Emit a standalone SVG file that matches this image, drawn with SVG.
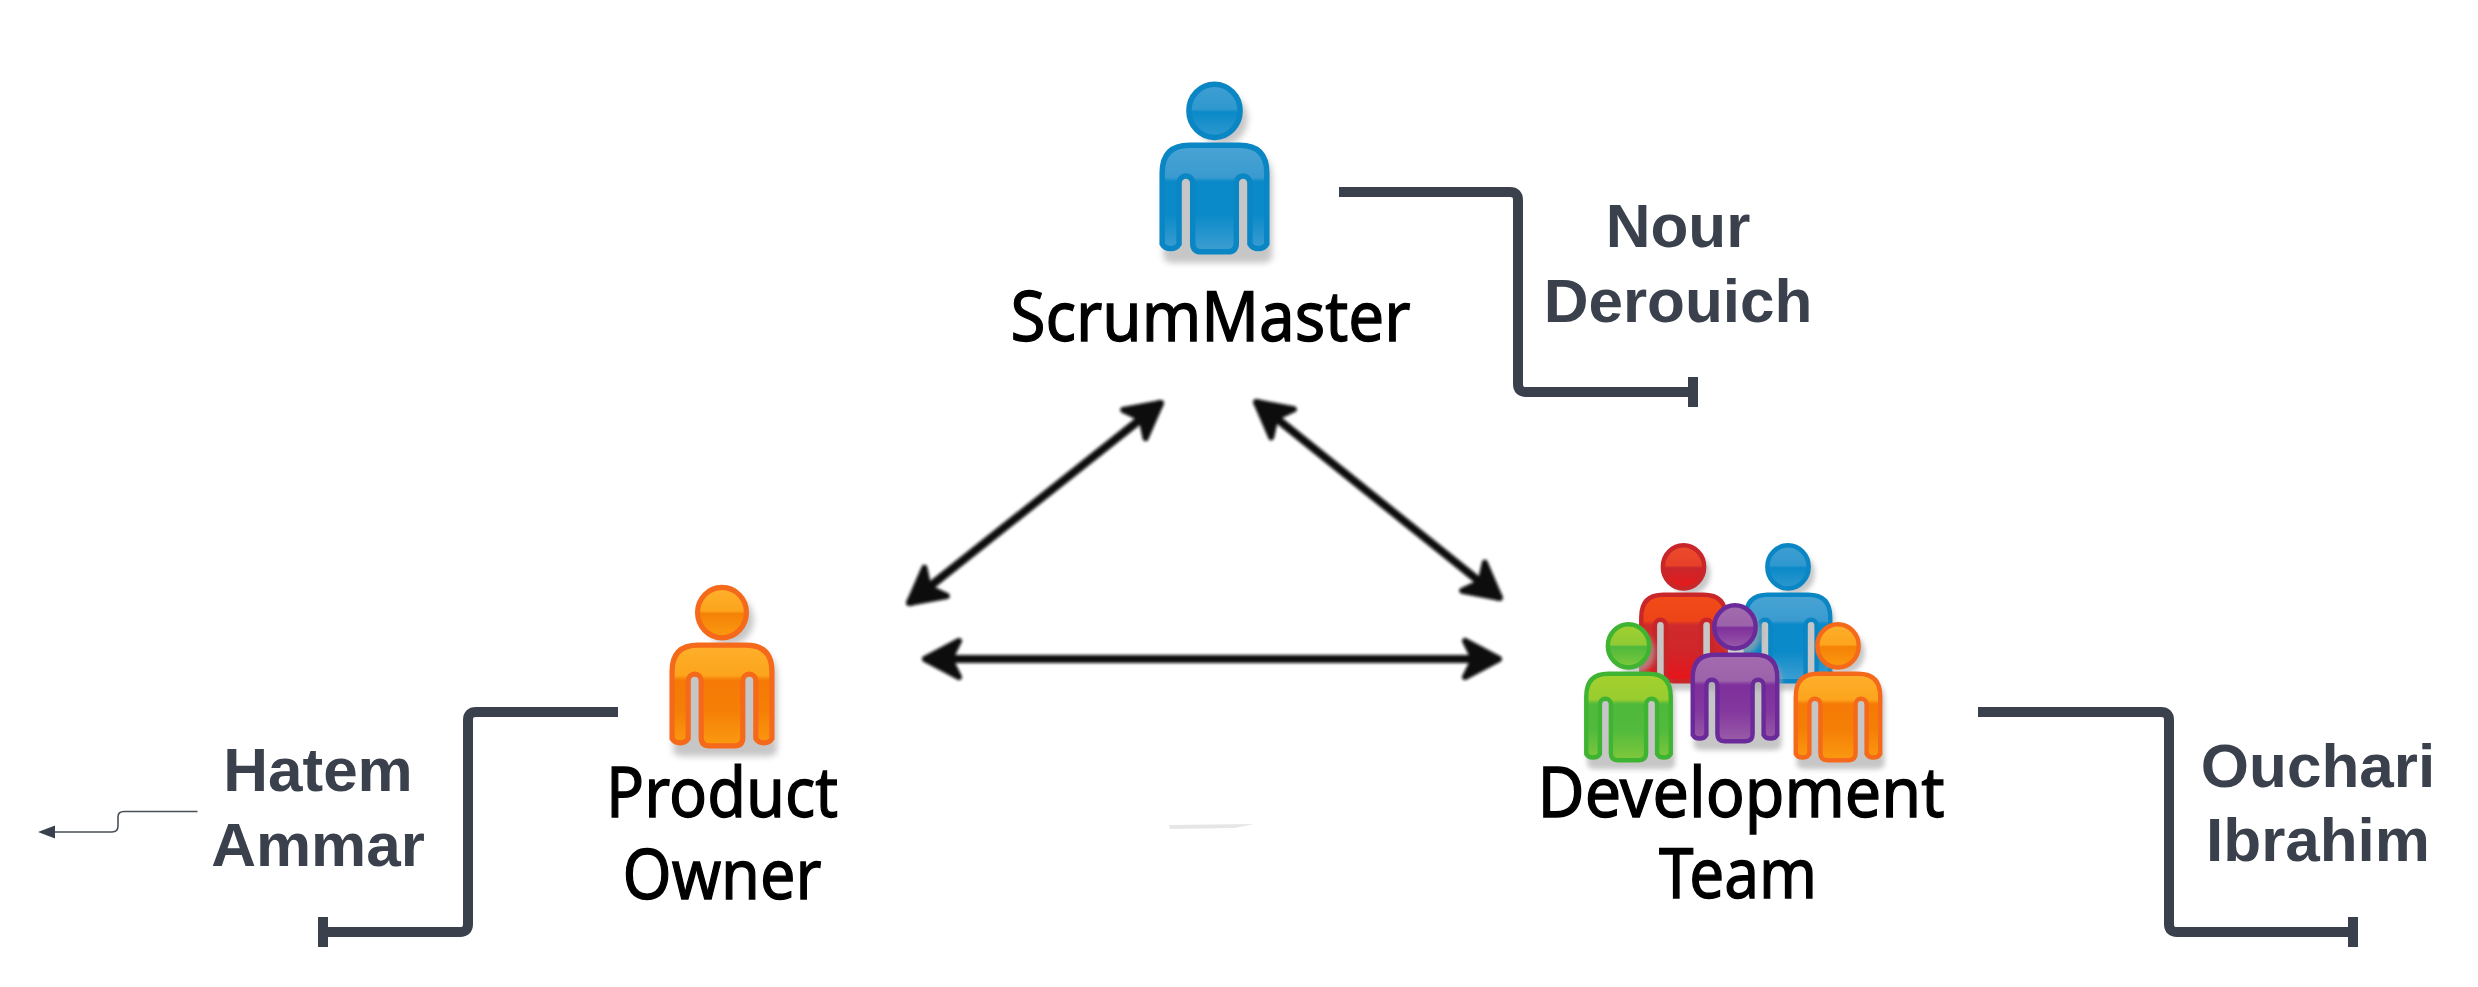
<svg xmlns="http://www.w3.org/2000/svg" width="2478" height="987" viewBox="0 0 2478 987">
<style>
.role{font-family:"Noto Sans","Liberation Sans",sans-serif;font-size:70px;fill:#000;text-anchor:middle;stroke:#000;stroke-width:1.3}
.name{font-family:"Liberation Sans",Arial,sans-serif;font-size:62px;font-weight:700;fill:#3a414c;text-anchor:middle}
.bracket{fill:none;stroke:#3a414c;stroke-width:10;stroke-linejoin:round}
.link{stroke:#0a0a0a;stroke-width:8;fill:none;marker-start:url(#dbl);marker-end:url(#dbl)}
.s{fill:#a8a8a8;stroke:none;opacity:.65;filter:url(#shadow)}
.b{fill:var(--b);stroke:var(--k);stroke-width:5}
.h{fill:var(--h);stroke:var(--k);stroke-width:5}
.blue{--b:url(#bBlue);--h:url(#hBlue);--k:#0a86c4}
.orange{--b:url(#bOrange);--h:url(#hOrange);--k:#f5691a}
.red{--b:url(#bRed);--h:url(#hRed);--k:#c9262a}
.green{--b:url(#bGreen);--h:url(#hGreen);--k:#3fb332}
.purple{--b:url(#bPurple);--h:url(#hPurple);--k:#6a2a9a}
</style>
<defs>
<filter id="shadow" x="-20%" y="-20%" width="140%" height="140%"><feGaussianBlur stdDeviation="3"/></filter>
<filter id="soft" x="880" y="380" width="660" height="320" filterUnits="userSpaceOnUse"><feGaussianBlur stdDeviation="1.8"/></filter>
<marker id="dbl" markerUnits="userSpaceOnUse" markerWidth="60" markerHeight="60" refX="44" refY="30" orient="auto-start-reverse" viewBox="0 0 60 60">
<path d="M44 30 L10 12 L19 30 L10 48 Z" fill="#0a0a0a" stroke="#0a0a0a" stroke-width="6" stroke-linejoin="round"/>
</marker>
<linearGradient id="bBlue" x1="0" y1="0" x2="0" y2="1"><stop offset="0" stop-color="#4aa3d4"/><stop offset=".3" stop-color="#3a9bd0"/><stop offset=".34" stop-color="#0a8ac8"/><stop offset=".65" stop-color="#0a8ac8"/><stop offset="1" stop-color="#3f9fd2"/></linearGradient>
<linearGradient id="hBlue" x1="0" y1="0" x2="0" y2="1"><stop offset="0" stop-color="#3f9fd2"/><stop offset=".47" stop-color="#2f98cf"/><stop offset=".52" stop-color="#0a8ac8"/><stop offset="1" stop-color="#2f98cf"/></linearGradient>
<linearGradient id="bOrange" x1="0" y1="0" x2="0" y2="1"><stop offset="0" stop-color="#ffb02c"/><stop offset=".3" stop-color="#fca41c"/><stop offset=".35" stop-color="#f57a06"/><stop offset=".65" stop-color="#f57f06"/><stop offset="1" stop-color="#fb9a10"/></linearGradient>
<linearGradient id="hOrange" x1="0" y1="0" x2="0" y2="1"><stop offset="0" stop-color="#ffb02c"/><stop offset=".47" stop-color="#fca41c"/><stop offset=".52" stop-color="#f58206"/><stop offset="1" stop-color="#fb9a10"/></linearGradient>
<linearGradient id="bRed" x1="0" y1="0" x2="0" y2="1"><stop offset="0" stop-color="#f24c18"/><stop offset=".3" stop-color="#ee4418"/><stop offset=".35" stop-color="#cf2a2c"/><stop offset=".65" stop-color="#d0262a"/><stop offset="1" stop-color="#e8141a"/></linearGradient>
<linearGradient id="hRed" x1="0" y1="0" x2="0" y2="1"><stop offset="0" stop-color="#ec4c2c"/><stop offset=".47" stop-color="#e64028"/><stop offset=".52" stop-color="#c8272c"/><stop offset="1" stop-color="#e81818"/></linearGradient>
<linearGradient id="bGreen" x1="0" y1="0" x2="0" y2="1"><stop offset="0" stop-color="#a4d22e"/><stop offset=".3" stop-color="#98cc30"/><stop offset=".35" stop-color="#4eb93c"/><stop offset=".65" stop-color="#52ba3c"/><stop offset="1" stop-color="#80c83c"/></linearGradient>
<linearGradient id="hGreen" x1="0" y1="0" x2="0" y2="1"><stop offset="0" stop-color="#a0d030"/><stop offset=".47" stop-color="#90ca34"/><stop offset=".52" stop-color="#4eb93c"/><stop offset="1" stop-color="#80c83c"/></linearGradient>
<linearGradient id="bPurple" x1="0" y1="0" x2="0" y2="1"><stop offset="0" stop-color="#a36cae"/><stop offset=".3" stop-color="#9c62aa"/><stop offset=".35" stop-color="#7f2f9c"/><stop offset=".65" stop-color="#84389e"/><stop offset="1" stop-color="#9a5ca8"/></linearGradient>
<linearGradient id="hPurple" x1="0" y1="0" x2="0" y2="1"><stop offset="0" stop-color="#a36cae"/><stop offset=".47" stop-color="#9c62aa"/><stop offset=".52" stop-color="#7f2f9c"/><stop offset="1" stop-color="#9a5ca8"/></linearGradient>
<path id="body" d="M-48 91 V27 Q-48 2 -23 2 H23 Q48 2 48 27 V91 A8.5 7 0 0 1 32.5 91 V36 A6.2 6.2 0 0 0 20 36 V90 Q20 98 12 98 H-12 Q-20 98 -20 90 V36 A6.2 6.2 0 0 0 -32.5 36 V91 A8.5 7 0 0 1 -48 91 Z"/>
<path id="cast" d="M-50 96 V27 Q-50 0 -23 0 H23 Q50 0 50 27 V96 Q50 102 40 102 H-40 Q-50 102 -50 96 Z"/>
<ellipse id="head" cx="0" cy="-29" rx="23.5" ry="24"/>
<g id="figure"><use class="s" href="#cast" x="3" y="6"/><use class="s" href="#head" x="7" y="7"/><use class="b" href="#body"/><use class="h" href="#head"/></g>
</defs>
<rect width="2478" height="987" fill="#fff"/>
<g id="connectors">
<path class="bracket" d="M1339 192 H1510 Q1518 192 1518 200 V384 Q1518 392 1526 392 H1693"/>
<path class="bracket" d="M1693 377 V407"/>
<path class="bracket" d="M618 712 H476 Q468 712 468 720 V924 Q468 932 460 932 H323"/>
<path class="bracket" d="M323 917 V947"/>
<path class="bracket" d="M1978 712 H2161 Q2169 712 2169 720 V924 Q2169 932 2177 932 H2353"/>
<path class="bracket" d="M2353 917 V947"/>
<g filter="url(#soft)">
<line class="link" x1="909" y1="603" x2="1161" y2="403"/>
<line class="link" x1="1256" y1="402" x2="1500" y2="598"/>
<line class="link" x1="925" y1="659" x2="1499" y2="659"/>
</g>
<path d="M197.5 811.5 H124 Q118 811.5 118 817 V826 Q118 832 112 832 H54" fill="none" stroke="#4a505a" stroke-width="1.6"/>
<polygon points="38,832 55,825.5 55,838.5" fill="#3a414c"/>
<polygon points="1169,825 1254,824 1235,828 1170,829" fill="#e6e6e6"/>
</g>
<g id="scrum-master" class="blue">
<use href="#figure" transform="translate(1214.5 143) scale(1.09 1.11)"/>
<text class="role" x="1210.5" y="341" textLength="400" lengthAdjust="spacingAndGlyphs">ScrumMaster</text>
</g>
<g id="product-owner" class="orange">
<use href="#figure" transform="translate(722 643) scale(1.04 1.05)"/>
<text class="role" x="722" y="817" textLength="232" lengthAdjust="spacingAndGlyphs">Product</text>
<text class="role" x="722" y="899" textLength="199" lengthAdjust="spacingAndGlyphs">Owner</text>
</g>
<g id="development-team">
<g class="red"><use href="#figure" transform="translate(1683.5 593) scale(.88 .9)"/></g>
<g class="blue"><use href="#figure" transform="translate(1788 593) scale(.88 .9)"/></g>
<g class="green"><use href="#figure" transform="translate(1628.5 672) scale(.88 .9)"/></g>
<g class="purple"><use href="#figure" transform="translate(1735 653) scale(.88 .9)"/></g>
<g class="orange"><use href="#figure" transform="translate(1838 672) scale(.88 .9)"/></g>
<text class="role" x="1741" y="817" textLength="407" lengthAdjust="spacingAndGlyphs">Development</text>
<text class="role" x="1738" y="898" textLength="158" lengthAdjust="spacingAndGlyphs">Team</text>
</g>
<g id="name-nour"><text class="name" x="1678" y="247">Nour</text><text class="name" x="1678" y="322">Derouich</text></g>
<g id="name-hatem"><text class="name" x="318" y="791">Hatem</text><text class="name" x="318" y="866">Ammar</text></g>
<g id="name-ouchari"><text class="name" x="2318" y="787">Ouchari</text><text class="name" x="2318" y="861">Ibrahim</text></g>
</svg>
